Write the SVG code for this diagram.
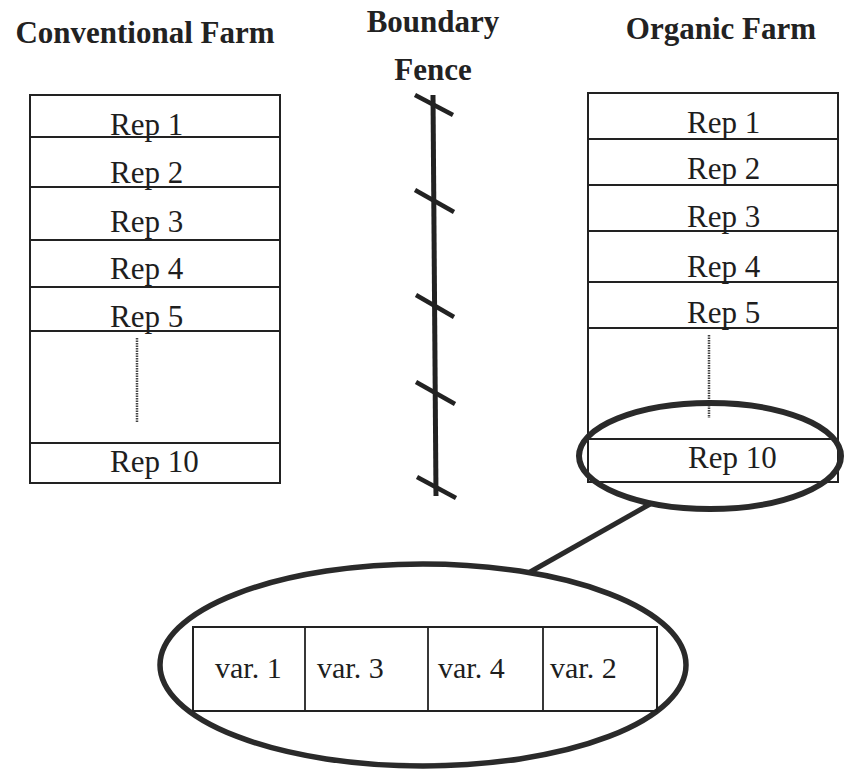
<svg xmlns="http://www.w3.org/2000/svg" width="844" height="769" viewBox="0 0 844 769">
<style>
.bg{fill:#ffffff}
.box{fill:none;stroke:#222;stroke-width:2}
.div{stroke:#222;stroke-width:1.8}
.dot{stroke:#444;stroke-width:2.5;stroke-dasharray:1.5 1}
.lbl{font-family:"Liberation Serif","Times New Roman",serif;font-size:31px;fill:#1e1e1e}
.var{font-family:"Liberation Serif","Times New Roman",serif;font-size:30px;fill:#1e1e1e}
.head{font-family:"Liberation Serif","Times New Roman",serif;font-size:31px;font-weight:bold;fill:#222;text-anchor:middle}
.fence{stroke:#222;stroke-width:5;stroke-linecap:butt}
.tick{stroke:#222;stroke-width:4.5}
.ring{fill:none;stroke:#2a2a2a;stroke-width:6}
.link{stroke:#2a2a2a;stroke-width:5}
</style>
<rect class="bg" x="0" y="0" width="844" height="769"/>

<g id="titles">
<text class="head" x="145" y="43">Conventional Farm</text>
<text class="head" x="433" y="32">Boundary</text>
<text class="head" x="433" y="80">Fence</text>
<text class="head" x="721" y="39">Organic Farm</text>
</g>

<g id="conventional-farm">
<rect class="box" x="30" y="95" width="250" height="388"/>
<line class="div" x1="30" y1="137" x2="280" y2="137"/>
<line class="div" x1="30" y1="187" x2="280" y2="187"/>
<line class="div" x1="30" y1="240" x2="280" y2="240"/>
<line class="div" x1="30" y1="287" x2="280" y2="287"/>
<line class="div" x1="30" y1="331" x2="280" y2="331"/>
<line class="div" x1="30" y1="443" x2="280" y2="443"/>
<line class="dot" x1="137" y1="338" x2="137" y2="422"/>
<text class="lbl" x="110" y="135">Rep 1</text>
<text class="lbl" x="110" y="183">Rep 2</text>
<text class="lbl" x="110" y="232">Rep 3</text>
<text class="lbl" x="110" y="279">Rep 4</text>
<text class="lbl" x="110" y="327">Rep 5</text>
<text class="lbl" x="110" y="472">Rep 10</text>
</g>

<g id="boundary-fence">
<line class="fence" x1="433" y1="95" x2="436" y2="496"/>
<line class="tick" x1="415" y1="95" x2="453" y2="115"/>
<line class="tick" x1="415" y1="190" x2="454" y2="212"/>
<line class="tick" x1="416" y1="295" x2="454" y2="317"/>
<line class="tick" x1="416" y1="382" x2="455" y2="404"/>
<line class="tick" x1="417" y1="477" x2="456" y2="498"/>
</g>

<g id="organic-farm">
<rect class="box" x="588" y="93" width="250" height="389"/>
<line class="div" x1="588" y1="139" x2="838" y2="139"/>
<line class="div" x1="588" y1="185" x2="838" y2="185"/>
<line class="div" x1="588" y1="231" x2="838" y2="231"/>
<line class="div" x1="588" y1="282" x2="838" y2="282"/>
<line class="div" x1="588" y1="328" x2="838" y2="328"/>
<line class="div" x1="588" y1="439" x2="838" y2="439"/>
<line class="dot" x1="709" y1="335" x2="709" y2="418"/>
<text class="lbl" x="687" y="133">Rep 1</text>
<text class="lbl" x="687" y="179">Rep 2</text>
<text class="lbl" x="687" y="227">Rep 3</text>
<text class="lbl" x="687" y="277">Rep 4</text>
<text class="lbl" x="687" y="323">Rep 5</text>
<text class="lbl" x="688" y="468">Rep 10</text>
</g>

<g id="rep10-highlight">
<ellipse class="ring" cx="710" cy="456" rx="131" ry="53"/>
</g>

<g id="connectors">
<line class="link" x1="530" y1="572" x2="652" y2="503"/>
</g>

<g id="rep10-detail">
<ellipse class="ring" cx="423" cy="665" rx="263" ry="101" style="stroke-width:5.5"/>
<rect class="box" x="193" y="627" width="464" height="84"/>
<line class="div" x1="305" y1="627" x2="305" y2="711"/>
<line class="div" x1="428" y1="627" x2="428" y2="711"/>
<line class="div" x1="543" y1="627" x2="543" y2="711"/>
<text class="var" x="215" y="678">var. 1</text>
<text class="var" x="317" y="678">var. 3</text>
<text class="var" x="438" y="678">var. 4</text>
<text class="var" x="550" y="678">var. 2</text>
</g>
</svg>
